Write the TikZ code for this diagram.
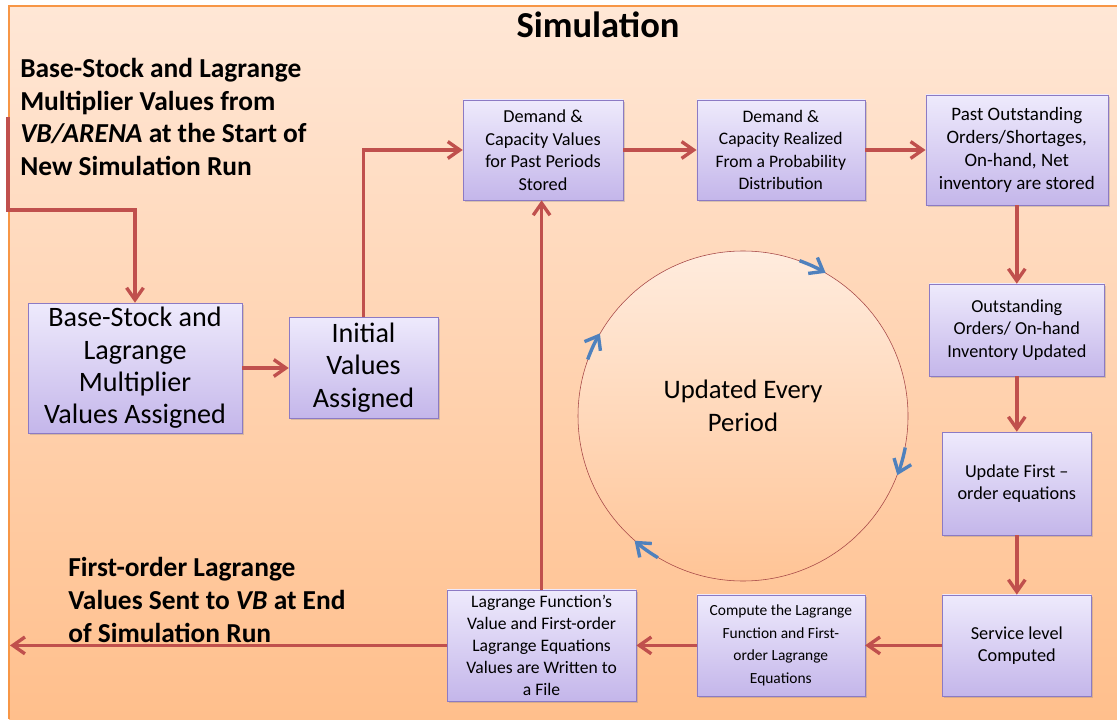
\documentclass[tikz,border=0pt]{standalone}
\usepackage{fontspec}
\setmainfont{Carlito}
\definecolor{simred}{RGB}{192,80,77}
\definecolor{simblue}{RGB}{79,129,189}
\definecolor{simline}{RGB}{140,122,196}
\definecolor{simtop}{RGB}{238,234,252}
\definecolor{simbot}{RGB}{196,182,234}
\definecolor{bgtop}{RGB}{255,231,214}
\definecolor{bgbot}{RGB}{255,191,140}
\definecolor{bgline}{RGB}{247,150,70}
\definecolor{ringtop}{RGB}{255,236,222}
\definecolor{ringbot}{RGB}{255,196,150}
\definecolor{ringline}{RGB}{165,70,70}
\usetikzlibrary{arrows.meta,shadows}

\begin{document}
\begin{tikzpicture}[
  flow/.style={draw=simred,line width=2.4pt,-{Straight Barb[length=0.3cm,width=0.42cm]}},
  cyc/.style={draw=simblue,line width=2.4pt,-{Straight Barb[length=0.3cm,width=0.46cm]}},
  stepbox/.style={draw=simline,top color=simtop,bottom color=simbot,align=center,inner sep=2pt,
                  drop shadow={shadow xshift=0.05cm,shadow yshift=-0.06cm,opacity=0.3},
                  font=\fontsize{13}{16}\selectfont},
  bigbox/.style={stepbox,font=\fontsize{20}{23}\selectfont},
  note/.style={font=\bfseries\fontsize{19.5}{23.4}\selectfont,align=left,inner sep=0pt,anchor=west},
]
  \useasboundingbox (0,0) rectangle (27.925,17.975);

  % Background
  \shade[top color=bgtop,bottom color=bgbot] (0.225,0) rectangle (27.925,17.825);
  \draw[bgline,line width=1.2pt] (0.225,0) -- (0.225,17.825) -- (27.925,17.825);

  % Title
  \node[font=\bfseries\fontsize{26}{30}\selectfont] (title) at (14.95,17.35) {Simulation};

  % Side notes
  \node[note] (from) at (0.5,15.05) {Base-Stock and Lagrange\\Multiplier Values from\\\textit{VB/ARENA} at the Start of\\New Simulation Run};
  \node[note] (to) at (1.7,2.975) {First-order Lagrange\\Values Sent to \textit{VB} at End\\of Simulation Run};

  % Period loop
  \node[draw=ringline,circle,minimum size=8.25cm,top color=ringtop,bottom color=ringbot,
        label={[align=center,font=\fontsize{19}{23.4}\selectfont,yshift=0.25cm]center:Updated Every\\Period}]
    (loop) at (18.575,7.575) {};
  \draw[cyc] (loop.70) arc[start angle=70,end angle=60,radius=4.125cm];
  \draw[cyc] (loop.-11) arc[start angle=-11,end angle=-21,radius=4.125cm];
  \draw[cyc] (loop.239) arc[start angle=239,end angle=229,radius=4.125cm];
  \draw[cyc] (loop.160) arc[start angle=160,end angle=150,radius=4.125cm];

  % Start of run
  \node[bigbox,minimum width=5.35cm,minimum height=3.25cm] (base) at (3.375,8.775)
    {Base-Stock and\\Lagrange\\Multiplier\\Values Assigned};
  \node[bigbox,minimum width=3.725cm,minimum height=2.525cm] (initv) at (9.0875,8.7875)
    {Initial\\Values\\Assigned};

  % Top row
  \node[stepbox,minimum width=4cm,minimum height=2.5cm] (past) at (13.575,14.225)
    {Demand \&\\Capacity Values\\for Past Periods\\Stored};
  \node[stepbox,minimum width=4.2cm,minimum height=2.5cm,font=\fontsize{12.5}{16}\selectfont] (real) at (19.52,14.225)
    {Demand \&\\Capacity Realized\\From a Probability\\Distribution};
  \node[stepbox,minimum width=4.55cm,minimum height=2.75cm,font=\fontsize{13.5}{16.3}\selectfont] (stock) at (25.42,14.225)
    {Past Outstanding\\Orders/Shortages,\\On-hand, Net\\inventory are stored};

  % Right column
  \node[stepbox,minimum width=4.375cm,minimum height=2.3cm] (upd) at (25.42,9.725)
    {Outstanding\\Orders/ On-hand\\Inventory Updated};
  \node[stepbox,minimum width=3.725cm,minimum height=2.575cm] (foe) at (25.42,5.8875)
    {Update First --\\order equations};
  \node[stepbox,minimum width=3.725cm,minimum height=2.525cm] (serv) at (25.42,1.84)
    {Service level\\Computed};

  % Bottom row
  \node[stepbox,minimum width=4.2cm,minimum height=2.525cm,font=\fontsize{11}{16}\selectfont] (lagr) at (19.52,1.84)
    {Compute the Lagrange\\Function and First-\\order Lagrange\\Equations};
  \node[stepbox,minimum width=4.725cm,minimum height=2.775cm,font=\fontsize{12.5}{15.8}\selectfont] (file) at (13.54,1.84)
    {Lagrange Function’s\\Value and First-order\\Lagrange Equations\\Values are Written to\\a File};

  % Connectors
  \coordinate (inp) at (0.2,15.05);
  \coordinate (bend) at (0.2,12.725);
  \coordinate (out) at (0.25,1.84);
  \draw[flow] (inp) -- (bend) -| (base.north);
  \draw[flow] (base.east) -- (base.east -| initv.west);
  \draw[flow] (initv.north) |- (past.west);
  \draw[flow] (past.east) -- (real.west);
  \draw[flow] (real.east) -- (stock.west);
  \draw[flow] (stock.south) -- (upd.north);
  \draw[flow] (upd.south) -- (foe.north);
  \draw[flow] (foe.south) -- (serv.north);
  \draw[flow] (serv.west) -- (lagr.east);
  \draw[flow] (lagr.west) -- (file.east);
  \draw[flow] (file.west) -- (out);
  \draw[flow] (file.north) -- (file.north |- past.south);
\end{tikzpicture}
\end{document}
